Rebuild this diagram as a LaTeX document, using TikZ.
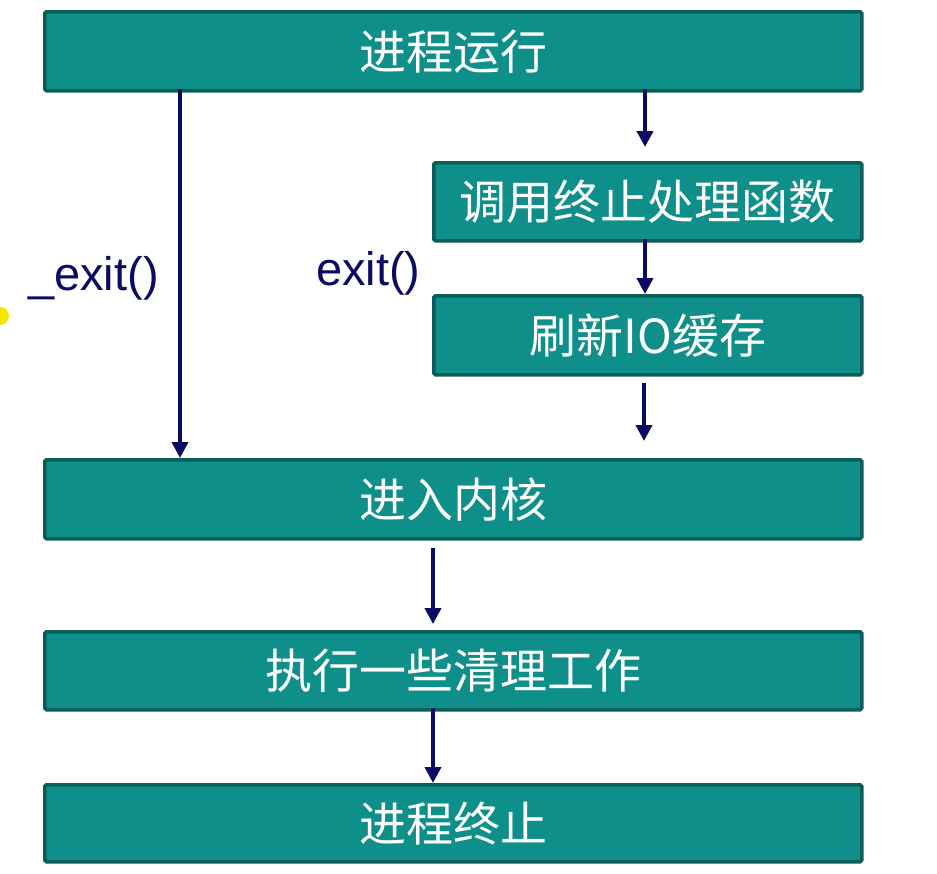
\documentclass[tikz,border=0pt]{standalone}
\usepackage{fontspec}
\setmainfont{Liberation Sans}
\newfontfamily\cjk{Noto Sans CJK SC}
\usetikzlibrary{arrows.meta}
\definecolor{boxfill}{HTML}{0F8F8A}
\definecolor{boxline}{HTML}{0A5E5A}
\definecolor{navy}{HTML}{0B0B66}
\definecolor{cursor}{HTML}{F5E600}
\tikzset{
  stepbox/.style={draw=boxline, fill=boxfill, line width=3.5pt, rounded corners=1.5pt,
    inner sep=0pt, anchor=north west, text=white,
    font=\cjk\fontsize{47}{47}\selectfont},
  flow/.style={draw=navy, line width=3.8pt, -{Triangle[width=16pt,length=16pt]}},
  lbl/.style={text=navy, font=\fontsize{47}{47}\selectfont, inner sep=0pt}
}
\begin{document}
\begin{tikzpicture}[x=1pt,y=-1pt]
\useasboundingbox (0,0) rectangle (937,873);
\fill[white] (0,0) rectangle (937,873);
% cursor highlight
\begin{scope}
\clip (0,0) rectangle (937,873);
\fill[cursor] (0,316) circle (9);
\end{scope}
% boxes
\node[stepbox, minimum width=817pt, minimum height=79pt] (run) at (43,10) {进程运行};
\node[stepbox, minimum width=428pt, minimum height=78pt] (call) at (432,161) {调用终止处理函数};
\node[stepbox, minimum width=428pt, minimum height=79pt] (flush) at (432,294) {刷新IO缓存};
\node[stepbox, minimum width=817pt, minimum height=79pt] (kern) at (43,458) {进入内核};
\node[stepbox, minimum width=817pt, minimum height=78pt] (clean) at (43,630) {执行一些清理工作};
\node[stepbox, minimum width=817pt, minimum height=77pt] (term) at (43,783) {进程终止};
% helper coordinates
\coordinate (a1) at (180,89);
\coordinate (a2) at (180,458);
\coordinate (b1) at (645,89);
\coordinate (b2) at (645,147);
\coordinate (c1) at (645,239);
\coordinate (c2) at (645,294);
\coordinate (d1) at (644,383);
\coordinate (d2) at (644,441);
\coordinate (e1) at (433,548);
\coordinate (e2) at (433,624);
\coordinate (f1) at (433,708);
\coordinate (f2) at (433,783);
% connectors
\draw[flow] (a1) -- (a2);
\draw[flow] (b1) -- (b2);
\draw[flow] (c1) -- (c2);
\draw[flow] (d1) -- (d2);
\draw[flow] (e1) -- (e2);
\draw[flow] (f1) -- (f2);
% labels
\node[lbl, anchor=base west] (lexit) at (28,290) {\_exit()};
\node[lbl, anchor=base west] (lexit2) at (316,285) {exit()};
\end{tikzpicture}
\end{document}
